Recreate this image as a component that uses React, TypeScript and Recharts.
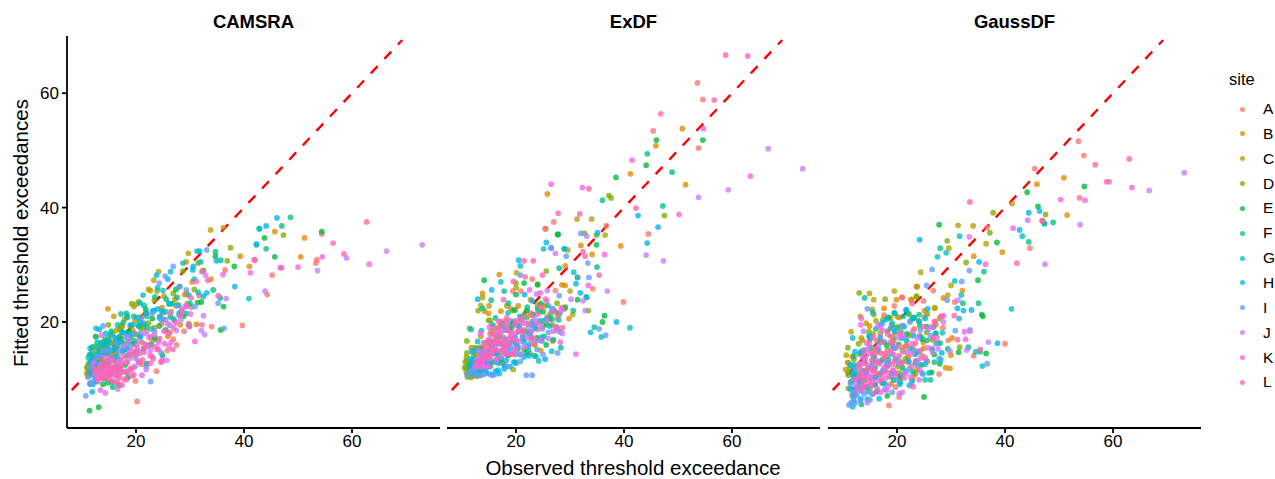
import { ScatterChart, Scatter, XAxis, YAxis, ReferenceLine } from 'recharts'

type Pt = [number, number]

const sites = ['A', 'B', 'C', 'D', 'E', 'F', 'G', 'H', 'I', 'J', 'K', 'L']
const siteColors = ['#F8766D', '#DE8C00', '#B79F00', '#7CAE00', '#00BA38', '#00C08B', '#00BFC4', '#00B4F0', '#619CFF', '#C77CFF', '#F564E3', '#FF64B0']
const xTicks = [20, 40, 60]
const yTicks = [20, 40, 60]

// CAMSRA
const camsraA: Pt[] = [[54.4,35.4],[53.5,30.9],[53.3,30.3],[45.2,28.2],[44.3,24.8],[39.7,19.4],[36.5,29.1],[34,19.2],[20.2,6.1],[23.8,11.4],[30.2,22.6],[29.9,19.2],[29.4,24.9],[27.5,16],[26.3,18.2],[25,21.6],[24,16.8],[22.8,17.4],[21.5,19.6],[20.7,14.5],[19.6,12.1],[18.9,16.6],[17.3,19],[16.8,10.2],[15.9,13.5],[15,11.8],[14.1,15.6],[13.2,12.7],[12.4,11.1],[27.1,20.2],[31.7,24.6],[25.8,15],[23.2,13.6],[21,12.6],[18.1,13.9],[17.1,12.1],[28.5,22],[19.9,9.7],[14.5,13.1],[16.4,15.4],[12.9,14],[22,18.3],[26.9,17],[18,11.2],[24.8,19.7],[15.4,14.4],[28.9,18.4]]
const camsraB: Pt[] = [[45.7,35.8],[51.2,34.7],[39.3,31.5],[50.5,31.4],[41,29.7],[14.8,22.3],[33.9,27.5],[31.2,19.6],[29.8,19.7],[29,24.8],[27.6,23],[26.5,21.8],[24.8,22.5],[23.4,19],[22,21.5],[21.2,16.4],[19.4,18.5],[18.4,15.5],[17.5,19.4],[16.2,17],[15.6,14.3],[14.4,16],[13,13.4],[12,12.5],[11.2,11.4],[30.4,27],[19.1,14.3],[17,13.4],[25.9,17.5],[12.7,15],[14.9,12.8],[20.3,17.8],[11.6,14.3],[23,16.7],[28.2,19.5],[13.9,12],[21.4,19],[16.5,12.2]]
const camsraC: Pt[] = [[33.8,36.1],[36.2,36.5],[29.7,32],[29.3,30.5],[15.9,21],[12.5,17.5],[24.2,28.8],[23.3,27.3],[22.3,25.7],[22.7,25.5],[20,23.1],[19.6,22.7],[17.9,20.5],[17.2,19.2],[16.4,18.6],[15,17.3],[14.1,16.6],[13.2,15.4],[12.2,14.2],[11.5,13.1],[11,12.2],[10.9,11.1],[11.2,10.5],[27.2,24],[25.2,24.5],[21.1,21],[18.5,17.2],[14.7,14.5],[13.6,13],[12.8,12],[32.4,29],[11.7,11.7],[15.9,16.1],[18.9,19.3],[12.1,11.2],[13.9,14.2],[17,17.5],[19.8,20.2],[16.3,14.5],[12.9,13.5]]
const camsraD: Pt[] = [[47.3,35.2],[37.5,33],[36.9,30.7],[31.5,30.3],[32.5,29],[14.9,19.5],[23.9,25.4],[20.5,23.5],[19.2,23.2],[18.4,21],[17,18.7],[15.3,16.4],[14.5,15.7],[13.6,15.2],[12.7,14.4],[11.9,13.6],[11.2,12.7],[10.9,12],[26.9,25],[25,20.5],[22.3,19.8],[19.8,17.9],[16.2,15],[14,13],[12.4,12.2],[30.8,25.7],[28.7,28.9],[29.5,23.2],[15.7,17.9],[13.3,12.4],[17.8,16.3],[11.5,11],[23.4,23.8],[18.6,18.1],[12.3,15.7],[20.9,18.9]]
const camsraE: Pt[] = [[43.8,34.7],[54.4,35.8],[45.7,31.4],[38.2,29.7],[34.7,31.5],[36.2,22.7],[35.7,18.6],[28.8,21],[31.4,23.4],[32.1,23.5],[27.4,25.7],[26.7,23.2],[28.1,26.2],[25.5,18.6],[24.3,19.3],[23,20.6],[21.8,22.2],[20.8,17.4],[20,14.6],[18.7,18.4],[17.5,15],[16.4,11.4],[15.2,13.2],[15.3,10.9],[14.1,10.1],[14.8,9.4],[16.8,8.9],[13.1,11.4],[12,10.9],[11.5,9.3],[22,12.7],[18.5,10.3],[24.9,14.2],[13.1,5.1],[11.4,4.5],[16.2,16.4],[18,12.5],[19.6,16.2],[21.4,15.3],[14.2,14.7],[15.6,9.5],[13.9,9.1],[26.4,20.9],[23.5,17.2],[20.5,19.3],[12.7,9.6],[17.2,17]]
const camsraF: Pt[] = [[48.6,38.3],[47,36.8],[44.1,32.8],[35.7,30.8],[34.7,32.3],[34.3,25.6],[35.6,24.2],[23.5,24.4],[25.6,24],[26.2,23.2],[27.6,24.3],[29.3,21.5],[30,23.2],[21.5,22.9],[20.7,20.2],[19.6,21],[18.2,21.5],[16.9,17.4],[15.4,18.4],[14.3,17],[13.5,16.1],[12.6,17.4],[11.8,15.6],[11.4,14.3],[17.8,15.1],[16,13.3],[13.8,12.3],[12.3,11.5],[22.8,16],[24.4,21],[19.8,16.7],[15.7,8.6],[16.6,15.8],[14.6,16.5],[12.8,16.4],[18.5,17.9],[12.1,13.4],[22,19.1],[27.9,22.9],[15.2,15.1],[17.6,19.9]]
const camsraG: Pt[] = [[42.9,36.3],[40.9,24.1],[42.8,36.3],[31.3,32.4],[28.7,30.3],[32,30.5],[30.5,29.1],[12.6,18.9],[26.4,28.8],[24,26],[25,25.5],[23.4,22],[22,21],[21.3,24.7],[20.8,23.3],[19.5,19.5],[18.4,20.8],[16.6,19.5],[15.3,17.8],[14.4,18],[13.5,16.4],[12.9,15.6],[11.5,15.4],[11.8,14.8],[11.2,13.8],[27,20.5],[29.8,24.7],[28,21.6],[30.8,27.5],[33.1,25.1],[31.5,25.2],[17.2,21.4],[18.4,14.2],[16,13.7],[13.5,11.5],[12.2,10.8],[25.5,21.8],[14.9,15.8],[12.4,12.9],[13.2,14.2],[17.7,18.2],[19.1,17.4],[15.6,15],[24,22.3],[20.6,19.4],[22.9,18.8],[16.7,16.4]]
const camsraH: Pt[] = [[44.1,36.8],[46.1,38.2],[42.3,33.5],[42.3,33.6],[38.3,26.2],[34.9,30.7],[31.8,32.4],[13.2,18.7],[23.8,28.2],[25.9,27.5],[30.6,29.7],[26.1,23.2],[24.8,21.9],[23.1,22],[21.9,21.6],[20.3,20.8],[19,19.5],[17.4,18.2],[16.1,17.2],[15,16.8],[14,15.9],[13.1,14.7],[12.3,13.9],[11.6,13],[11.4,11.7],[11.9,7.8],[12,9.1],[12.4,10],[28,21.2],[32.5,24.5],[20.8,17.5],[18.2,15.3],[16.5,14],[14.4,12.4],[13,12.9],[14.6,14.5],[12.2,12.3],[15.5,13.7],[17.3,16.4],[11.7,10.8],[21.4,19.8],[18.9,17.8],[24.4,20.7],[16,15.4]]
const camsraI: Pt[] = [[33.1,32.6],[36.3,18.9],[35.2,23.3],[10.7,7.1],[22.7,9.6],[13.9,19.3],[25.4,28],[24.3,26.8],[26.9,29.7],[28,26.2],[29.3,25.6],[30.9,22.7],[26.3,19.4],[24.7,20.4],[23,21.5],[20.9,20.5],[19.6,18],[18,17.4],[16.3,16.3],[15.1,15],[13.7,13.9],[12.7,14],[12,12.6],[11.4,12],[11.1,10.4],[11.9,9.5],[12.6,9.9],[14.5,10.8],[16.4,12],[18.3,11.4],[20,13.6],[21.9,12.2],[24.6,14.7],[17.5,15.4],[22.3,16],[27.4,22.8],[29.7,19.5],[14.2,15],[15.3,13.8],[13.4,12.5],[16.9,14.8],[12.2,11],[19,15.6],[20.9,18.1],[11.5,9.1],[12.8,11.3],[23.4,18.4],[25.5,20.4],[18.6,16.4],[14.8,13.2]]
const camsraJ: Pt[] = [[73,33.5],[66.4,32.4],[59,31.2],[47,29.5],[53.6,29],[43.9,25.4],[32.9,28.2],[32.5,21.1],[32.1,18.5],[32.7,17.8],[36.7,24.1],[16.6,8.3],[25.7,13.3],[26.1,15.8],[24.9,13.4],[22.7,15.1],[21.9,11.7],[20.4,14.9],[19,13.7],[17.3,13.2],[15.8,12.2],[14.2,11.5],[13,10.6],[28.3,20.4],[29.1,22.7],[27.5,18.5],[23.4,17.8],[21.6,18],[18.5,17.3],[16.9,10.5],[30.1,21.4],[20.7,16.7],[17.8,15.8],[24.2,16.4],[19.9,12.3],[26.3,21.4]]
const camsraK: Pt[] = [[54.5,31.4],[50,29.6],[63.2,30.1],[41.2,28.6],[36.1,28.3],[42,30.8],[32.2,28.8],[30.9,16.6],[13.4,8.1],[14.3,7.6],[13.6,17.7],[31.2,27.1],[29.3,22.8],[28.5,22.2],[27.4,19.9],[26.5,16.5],[25.2,18.4],[24.1,15.3],[23,13.9],[22.7,12.8],[21.5,14.7],[20.6,13],[20.2,16],[19.1,11.7],[18.4,12.9],[17.6,14.1],[16.7,11.5],[16,10.7],[15.4,13.2],[14.7,12.1],[14.1,11],[13.5,12.6],[13,11.5],[12.4,10.8],[12.2,13],[18.2,9.9],[21.1,10.7],[16.6,12.8],[15.1,10.1],[14.2,13.8],[13.1,9.7],[14.9,11.3],[15.7,11.6],[17.2,12.6],[18.9,14.8],[20,14.2],[22.4,17.3],[24.8,13.1],[19.6,10.8],[16.2,9.5],[13.7,10.4],[23.5,15.7],[21.7,16.1],[25.9,19.7]]
const camsraL: Pt[] = [[62.7,37.5],[56.5,33.8],[58.5,31.9],[41.9,30.9],[46.7,29.5],[33.3,27.3],[35.2,24.6],[32.2,19.5],[29.9,19.3],[30.2,24.2],[28.2,21.2],[27,19],[26,18],[24.4,17.1],[23.9,15.2],[22.6,14.2],[21.5,15.4],[20.5,13.1],[19.7,14.8],[19,11.9],[18.2,13],[17.6,11.3],[17,12.2],[16.4,10.6],[15.8,13.4],[15.2,12.1],[15,11],[14.6,12.5],[14,11.7],[13.7,10.4],[13.3,12],[12.8,11.2],[12.3,11.8],[16,11.7],[16.9,10.9],[17.8,10],[19.3,10.6],[14.4,10.1],[15.6,9.7],[24.6,13],[26.8,15.2],[14.8,10.6],[15.4,11.4],[16.2,12.4],[17.2,11.6],[18.5,11.2],[13.6,11],[14.2,12.8],[15,13.6],[12.9,10.2],[16.6,9.4],[17.4,9],[18.7,14.2],[21.2,13.4],[22.2,15.8],[20.2,15.4],[25.3,16.2]]

// ExDF
const exdfA: Pt[] = [[53.6,61.8],[54.6,58.9],[45.4,53.4],[53.8,50.4],[27,37.5],[25.4,36.3],[36.7,36.8],[44.5,35.4],[25.5,36.3],[23,27.5],[19.4,25.4],[20.9,25.4],[27.3,25.5],[34.2,25.8],[39.9,23.5],[31.4,27.8],[19,22.4],[22.7,21.6],[25.8,21],[28.4,22.5],[20.6,18.5],[24,18.7],[17.4,19.8],[16.3,17.1],[15,15.3],[13.7,14],[19.6,14.5],[21.9,15.5],[14.1,12.4],[12.2,11.6],[18,15.2],[17.1,13.2],[23.4,16.2],[25,19.4],[15.3,12.7],[19.9,17]]
const exdfB: Pt[] = [[50.8,53.8],[45.9,50.8],[41.2,45.9],[51.4,44],[25.8,42.4],[32,33.4],[39.4,33.3],[34.1,31.8],[29.1,29.8],[28.5,26.5],[29.1,26.4],[16.9,28.3],[13.8,25],[14.9,21.5],[29.8,20.6],[22.7,23.9],[24,22.5],[27.5,21.7],[19.4,19.9],[20.4,22.8],[17.2,21.9],[14.2,21.9],[23.5,16],[18.7,16.3],[15.8,17.8],[13.4,15.6],[12.2,14.1],[11.1,12.6],[16.8,14.2],[26.7,19.5],[14,12.7],[13,11.2],[15.4,13.2],[12.4,12.2],[18,20.2],[21.4,18.6],[22.6,14.5],[25.2,22.8],[17.7,12.6],[11.7,11.1],[24.6,15]]
const exdfC: Pt[] = [[31.3,38],[34,38],[36.5,35.2],[29.6,32.6],[20.1,28.6],[20,26],[13.8,24.3],[13.5,22.9],[15,22.8],[15.2,20.3],[30,25.4],[18.3,22.8],[21.6,21.5],[24,23],[30.5,21.3],[15.9,19.3],[18.1,18.7],[16.8,17.2],[13.5,17.5],[11.7,15.5],[10.9,13.1],[10.7,12.1],[11.1,11],[11.8,10.6],[12.7,10.5],[13.6,10.7],[14.1,12.3],[19.5,11.7],[19.8,13],[26.8,16.7],[11.9,11.7],[12.9,13.3],[15.1,15.2],[17.4,15],[11.4,12.9],[14.2,16.3],[19,20.2],[23,19.6],[16.2,13.1],[12.3,15.5]]
const exdfD: Pt[] = [[37.2,42.1],[37.6,41.7],[47.5,38.6],[32.7,35.5],[34.9,35.2],[25.6,28.9],[24,26.6],[20,26.8],[13,22],[14.9,20.3],[11.4,18.9],[10.9,16.7],[10.9,14.6],[10.6,13],[10.5,12],[10.8,11.2],[11,10.4],[11.7,10.3],[12.4,10.7],[13,12.6],[16,16.6],[18,16],[19.4,22],[22,20.8],[24.4,20.1],[29,22.3],[33.4,22],[17,19.2],[15.4,18.4],[21.5,15.2],[11.8,12.7],[12.6,14.4],[11.2,11.8],[13.8,14.2],[14.9,16.3],[10.8,13.8],[16.6,13.5],[20.6,19.3],[22.9,17.1],[26.4,21.4],[18.7,14.2],[27.6,23.3],[19.3,17.2]]
const exdfE: Pt[] = [[46,51.8],[54.6,51.8],[44.1,47.4],[38.5,45.3],[27.8,35.3],[27.7,35.3],[34.9,33.5],[14.1,27.3],[21.5,26.8],[24,26.5],[20,24.8],[31.4,23.9],[36.4,21.1],[36,20],[29.1,22.6],[28,21.4],[26.2,20.6],[25.7,19.5],[22,22],[19.8,22.1],[23.2,21.3],[18.8,18.6],[21.3,17.5],[17.4,19.7],[20.3,15.3],[15.9,14.5],[14.4,13.8],[12.9,13],[11.8,11.9],[22.7,18.2],[25,21.8],[16.7,16.4],[13.8,15.4],[15.2,12.2],[18.4,14.2],[24.6,23.2],[27,22.1],[19.5,19.8],[23.9,17.2],[17.3,13.4],[21.9,14.6],[25.6,16]]
const exdfF: Pt[] = [[44.3,49.4],[48.9,46.2],[36,41.3],[47.2,40.3],[28,29.4],[35,29.6],[17.8,25.4],[15.4,23.8],[18.6,23.3],[13.8,22.4],[33,24.4],[26.9,16.9],[28.3,15.5],[34.5,19.1],[26.7,20.5],[24.3,21.8],[22.1,22.6],[20.7,21],[23.5,19.4],[25.2,17.5],[19.2,19],[17,17.5],[15.5,15.5],[14,14.7],[12.4,12.8],[11.4,12.2],[13.5,11.5],[23.4,14.1],[30.6,22],[16.2,20.7],[12.8,15.4],[14.7,13],[18,17],[16.8,12.8],[21.9,18.3],[24.9,20.2],[20,16.2],[25.9,22.9],[22.4,16.1],[27.9,20.4]]
const exdfG: Pt[] = [[25.1,32.8],[29,32.8],[28.9,32.8],[30.7,28.7],[31.4,27.8],[33.1,24.3],[17.2,27],[20.8,29.8],[27.6,19],[26.6,14.9],[24.2,13.2],[23.7,14],[41.1,19],[35.8,17.4],[28.1,18.3],[24.7,17.3],[23,20.1],[21,20.3],[18.5,21.6],[17.6,19.2],[19.8,17.4],[15.5,19.6],[13.6,18.5],[11.7,18.7],[12.9,16.6],[12.2,14.9],[11.5,13.5],[14.2,13.4],[16.5,14.6],[20,12.8],[13.1,12],[17.9,12.4],[12,12],[13.4,14.8],[15.3,16.5],[15.9,13],[11.4,11.3],[19,15.4],[21.5,16.5],[24,22.2],[26.3,19.3],[22.3,15.2],[18.8,19.4],[14.4,11.5],[16.7,11.6],[20.7,14.3]]
const exdfH: Pt[] = [[42.6,38.6],[46.3,36.6],[44.3,33.8],[25.6,33.9],[35.1,35.6],[20.5,30.8],[31.1,26.7],[15.5,25.6],[12.9,24],[31.9,25.1],[21.6,24.8],[38.6,20],[33.8,18.2],[23,23.7],[26.7,22.4],[24.8,16.7],[22.5,18],[20.4,19.3],[18.3,15.9],[16.2,14.6],[14.9,15],[13.5,14],[12,13.5],[11.4,12.5],[12,11],[12.8,11.1],[14.4,11.1],[15.2,10.9],[16.2,11.4],[17.8,11.8],[18.9,12.2],[19.6,13],[17.2,13.6],[22.4,14.1],[25.4,13.5],[21.5,13.9],[12.6,12.2],[13.6,11.8],[14.9,12.8],[16.9,11],[18.2,13.3],[11.8,14.8],[13.2,10.9],[20.2,15.8],[21.3,17],[23.5,18.9],[25.6,20.5],[19.3,16.7],[16.6,16.2],[14.1,12.8]]
const exdfI: Pt[] = [[32,35.5],[29.3,31.5],[26.5,33],[26.5,32.9],[33.3,30.3],[33.5,27.8],[20.8,28.2],[28,24.6],[35.4,18.8],[36.6,17.7],[21.9,10.7],[23,10.7],[27.7,14.6],[25,14.3],[23.9,15.2],[24,16.8],[26,18.2],[22.3,19.2],[24.3,20.2],[19.8,20.2],[18,18.6],[16.7,17.7],[20.4,15.6],[22.3,15.7],[15.2,14],[13.6,13],[12.4,12],[11.5,11.3],[12.3,10.8],[13.2,10.6],[15.6,10.7],[16,10.8],[14.5,12],[17.6,14.7],[19,16.2],[21.2,17.5],[11,10.7],[12,11.6],[13,12.9],[14.2,10.9],[16.4,13],[18.2,12.2],[19.9,14.3],[20.8,13.1],[17.2,16.2],[15.4,15.5],[23.1,19.4],[24.9,18.8],[22.6,17.6],[19.4,17.4],[26.6,21.8],[21.4,20.9],[18.6,14.9],[14.9,13.4]]
const exdfJ: Pt[] = [[66.7,50.3],[73.1,46.8],[59.3,43.1],[53.8,41.8],[33.1,35],[27.3,32],[44.1,31.7],[47.3,30.7],[36.9,25.4],[32.4,23.7],[32.8,22],[28.6,18],[25.8,25.5],[23.8,24.9],[28.3,21.8],[26,17.1],[25.7,23.7],[21.9,19.8],[20.5,18.4],[18.6,20.2],[16.9,18.1],[21.5,15.7],[19.9,14.9],[18.4,14.6],[15.1,17],[14,16.4],[24.7,19.1],[30.2,24],[17.3,13.9],[13.1,15],[16,16.5],[20.1,16.8],[22.9,16.5],[19.2,18],[17.9,16.7],[21,14.4],[23.5,20.5],[14.9,14.1]]
const exdfK: Pt[] = [[54.7,53.8],[41.5,48.3],[63.4,45.5],[26.5,44.1],[32.3,43.5],[50.2,38.8],[36.4,31.8],[33.4,26.4],[31.1,14.4],[27.5,18.6],[26.9,22.1],[22.5,25.6],[24.5,25.1],[28.6,22.3],[25.8,20.3],[26.9,18.4],[24.6,16.8],[22.8,18.4],[21.2,19.8],[20,18.1],[18.8,17],[17.8,19.6],[17.1,16.4],[16.4,18.4],[15.6,15.4],[14.8,16.8],[14.2,15],[13.4,14.2],[13,13.5],[12.6,12.7],[12.9,12.3],[13.5,12.1],[14.4,12.3],[15,12.2],[16.3,13.5],[18.2,14.4],[19.8,15.4],[13.4,18],[28.2,16.5],[15.1,19.1],[14.8,13.6],[13.8,13.2],[14.4,13.8],[15.4,14.3],[16.2,15.6],[17.3,15],[18.2,15.7],[19,14.4],[20.6,16.6],[12.4,12.2],[13.2,12.7],[13.8,12.5],[14.3,14.2],[22.1,17.2],[20.9,18.6],[23.9,19.7],[18.5,18.6],[16.8,20.1]]
const exdfL: Pt[] = [[58.8,66.7],[62.9,66.5],[56.7,58.8],[46.8,56.4],[33.5,43.3],[42.2,39.9],[27.8,39],[31.8,38.9],[32.4,32.3],[32.8,31.5],[21.5,30.7],[23.2,30.7],[19.5,27.1],[21.7,27.9],[24.9,28.2],[35.4,28.2],[17.7,23.9],[28.6,19],[27.4,19.2],[25.5,24],[27.7,21],[24.6,22.6],[22.8,21.2],[20.9,20.6],[19.8,19.5],[19,18.2],[18.2,19.2],[17.7,17.3],[17.2,18.2],[16.7,16.5],[16.2,17.6],[15.7,16.4],[15.2,17.9],[15,15.3],[14.6,14.2],[14.2,15.7],[13.7,13.8],[16.4,15],[17.6,15.6],[18.6,16.1],[19.5,14.4],[17.1,20.1],[18.3,20.7],[14.9,13.7],[13.3,13.2],[23.2,17.2],[16,18.8],[16.9,19],[17.4,16.3],[18.9,17.4],[15.9,15.2],[15.3,16.7],[14.5,16.4],[16.6,17.1],[19.6,17],[20.3,18.3],[15.5,14.6],[21.4,18.3],[22.3,19.7],[18,14.6],[20.2,20.1],[24,21.4]]

// GaussDF
const gaussA: Pt[] = [[53.6,51.6],[54.6,49.1],[45.5,46.8],[53.8,41.7],[46.9,37.7],[36.7,36.5],[44.6,32.9],[26.7,25.5],[23.7,26.2],[20.9,24.3],[24.9,23.7],[30.7,23.5],[27,20.1],[21,24.3],[19.5,22.8],[17.6,21.2],[23.6,26.2],[27.8,10.9],[18.5,5.4],[20.4,6.9],[34.2,14.1],[40,16.2],[20.8,19.3],[24.2,17.6],[18.8,16.5],[26.5,15.4],[22,13],[15.7,13.4],[14.3,11.2],[17.2,9.4],[25.1,20.9],[29.5,16.8],[13.1,8.2],[19.3,11.4],[23.2,10.6],[16.2,16.8],[17.9,14.4],[21.7,16],[28.5,19],[15.2,10.3],[24.6,14.1],[12.3,7.5],[19.7,8.6]]
const gaussB: Pt[] = [[50.9,45.2],[45.9,44.1],[41.3,40.7],[51.5,38.7],[39.5,32.2],[34.2,31.5],[32.1,25.5],[28.6,24.2],[22.6,23.9],[25.1,22],[19.9,23.9],[17.6,22.4],[22.7,23.9],[29,12],[29.8,11.9],[30,14.2],[30.2,17.2],[19.4,16.8],[22.1,13.9],[24.9,15.4],[27.2,19.5],[16.9,18],[14.9,19.3],[13.6,16.8],[11.7,14],[10.9,12.9],[15.4,12.3],[17.7,11.5],[20.5,10.2],[23.2,18.8],[18.2,14],[21.3,15.6],[14,13.1],[19,19.5],[25.6,13.1],[23.7,11.7],[27.5,16.4],[16,9.1],[20.1,20.9],[13,10.1],[18.9,9.2]]
const gaussC: Pt[] = [[31.3,36.9],[34.1,36.8],[36.5,33.7],[29.6,32.9],[24.4,28.7],[23.7,26.2],[30,26.4],[29.4,24.7],[27,22.4],[27,22.5],[19.5,25.4],[14.9,25],[15.7,23.9],[15.4,22.2],[11.5,18.3],[10.6,14.2],[10.9,12.9],[10.5,11.7],[11,10.7],[13.2,21],[16.1,20.2],[13.4,17.2],[19.6,18.1],[22.5,20.3],[18.3,15.1],[21,13],[15.4,14.8],[12.4,12.3],[14.1,10.2],[24.9,16.4],[12,8.3],[17,16.5],[14.3,19.8],[16.5,13],[13,14.4],[20.4,20.8],[18.8,20.7],[22.9,15.4],[15.6,17.9],[11.9,10.6],[20.4,11.1]]
const gaussD: Pt[] = [[47.5,38.8],[37.8,39.1],[37.2,35.6],[29.3,34.2],[32.8,30.4],[13,25.1],[17.8,24],[23.6,24.4],[23.6,24.5],[25.6,21.4],[31.6,15.6],[10.9,15.5],[11,8.4],[11.3,12.1],[10.9,11.2],[12,13.5],[15.7,21.3],[17.4,20.4],[24,20.2],[19.3,17.3],[16.5,14.9],[14.3,11.6],[18.1,12.7],[13.4,9.1],[21,15],[23.4,11],[25.5,18.2],[11.4,9.5],[14.8,18.3],[12.6,11],[20.1,12.2],[16,10.4],[22.4,17.7],[12.9,16.2],[18.2,18.4],[21.6,13.6],[26.6,16.9],[15,8.4],[11.7,7.1],[27.9,20.6]]
const gaussE: Pt[] = [[54.7,43.7],[44.1,42.7],[46.1,40.2],[27.8,37],[38.5,33.9],[35,27.3],[35.9,21],[35.7,21.3],[23.2,20.8],[25.5,19.2],[25,6.9],[18.2,7.1],[31.4,14.7],[36.5,14.5],[26.9,14.3],[27.2,18],[20,19.1],[19.5,21.6],[22.2,21.4],[18.1,15.9],[20.3,16.1],[23.4,14.4],[15.8,14],[13.9,15.1],[16.7,10.8],[14.3,8.6],[12.4,10.4],[21,12],[24.5,12.5],[26.4,11.2],[17.4,13.5],[19.4,9.9],[15,17],[13.1,12.7],[22.8,9.8],[16.3,7.9],[18.4,20.8],[21.8,17.9],[24.7,17],[27.9,12.7],[20.6,10.5],[15.9,12]]
const gaussF: Pt[] = [[47.3,37.2],[48.9,37.4],[44.4,34],[36.1,28.8],[32.2,23.3],[35.1,23.3],[28,32.9],[24.1,21.3],[35.4,14.8],[33.2,15.6],[14,24.2],[12,14],[13.4,5.6],[26.2,9.9],[23,20.7],[21.3,19.2],[16.9,17.1],[18.9,18.9],[25.6,16.8],[28,16.3],[19.7,13.5],[23.4,12.8],[15.5,12.9],[13.5,11.5],[11.7,11.2],[17.4,9.3],[20.6,9.5],[12.2,8.2],[26.9,13],[18.3,12.3],[15.1,15.5],[21.8,16.8],[14,9.8],[16.1,18.8],[24.2,19.4],[29.4,15.3],[19.2,15.9],[22.8,11.4],[17,11.1]]
const gaussG: Pt[] = [[47.3,37.2],[43.2,35],[31.6,35],[27.5,31.4],[29.1,32.1],[30.7,27.2],[31.9,24.7],[41.2,22.3],[32.3,22],[31.5,20.6],[25.2,20.6],[21.7,22.1],[28.4,18.1],[35.8,12.3],[34.6,14.8],[25.2,9.9],[25.9,11.1],[11.8,17.2],[11.8,5.2],[15.5,21.7],[21.2,21],[19.1,19.8],[24.4,17.4],[22.4,15.3],[17.7,16.5],[14.8,17.5],[13.3,14.8],[12,12.5],[16,10.4],[20.3,12.7],[26.5,15.1],[28.1,13.4],[22.3,8.9],[18.4,13.4],[13.2,9.9],[16.5,15.2],[12,7.4],[23.5,13.2],[19.4,15.4],[20.7,18.4],[27.1,18],[14.6,7.8],[18.9,10.4],[24.8,10.9],[11.6,9.6]]
const gaussH: Pt[] = [[44.4,39.1],[46.4,39.4],[42.7,36.1],[35.2,30.5],[24.2,34.4],[25.7,22.3],[31.2,22.4],[33.8,22.1],[24.1,20.1],[38.6,16.3],[12.2,14.8],[21.7,22.1],[19.6,21.5],[22.9,20.6],[18.1,20.5],[26.7,19.1],[20.8,17.2],[15,17.5],[13.4,14.5],[11.4,12.5],[12.2,11.5],[12.9,10.6],[13.8,8.6],[11.4,8.3],[12.1,7.2],[13.3,6.5],[15.4,7.4],[16.7,6.6],[17.8,9.2],[14.8,12],[23.9,14.8],[21.6,11.4],[25.2,12.6],[28.3,14.6],[11.8,10.8],[13,9.6],[14.5,6.5],[15.9,9],[17,13.1],[19,14.4],[12.6,8.6],[19.6,18.4],[22.2,13.1],[17.3,19.8],[23.1,17.6],[14.2,11.1],[18.9,11.1],[20.5,9.1],[12,6.1]]
const gaussI: Pt[] = [[33.4,29],[26.5,29.2],[25.5,26.4],[29.3,23.8],[32,27.1],[30.8,18.5],[33.5,18.6],[36.7,12.7],[27.8,13.6],[14.5,22.3],[22.4,20],[18.8,18.9],[24.3,18.6],[21.1,19.4],[16.9,17.4],[19.7,15.4],[23.2,15],[25.4,13.3],[22.3,11.9],[19.8,9.8],[15.6,13.9],[13.5,11.2],[12,10],[11.4,9.2],[11.7,7.6],[12.6,7.1],[13.9,7.4],[11.1,5.5],[12.2,5.8],[11.5,5.9],[14.7,8.8],[16.1,7.7],[17.4,11.6],[21,10.8],[24.6,11.1],[12.9,8.9],[11.9,6.6],[13.3,7.9],[15,6.4],[15.9,10.2],[18.5,12.9],[23.8,12.5],[21.6,17.1],[12.3,11.8],[16.6,16],[26.2,17.6],[20.2,13.4],[17.7,8.2],[19.1,7.7],[22.7,9.3],[14.1,13.4],[27.2,16.2],[16.8,19.6],[13.2,6.2],[15.3,11.8]]
const gaussJ: Pt[] = [[73.2,46.1],[59.3,44.5],[66.7,43],[44.2,37.8],[53.9,37],[47.4,30.1],[31.3,23.8],[36.9,16.5],[33.5,18.4],[32.9,15.1],[28.6,20],[20.4,7.5],[21,7.7],[14.5,5.9],[13.8,18.4],[25.8,18.7],[23.8,17.2],[21.3,14.8],[17.3,18.5],[18.8,14.9],[15.8,12.6],[17.6,12],[22.5,10.4],[26.6,14.7],[14.6,15.3],[13,12.7],[19.6,10.7],[12.3,9.1],[29.8,14.9],[16.5,19.4],[20.3,17.3],[24.3,13.6],[15.1,10.9],[18.4,8.8],[22.8,14.4],[27.6,15.3],[13.8,8.1]]
const gaussK: Pt[] = [[63.5,43.5],[54.8,41.3],[50.3,41.4],[41.5,36.4],[33.4,34.9],[36.4,30.1],[28.6,21.1],[28.3,21],[32.5,18.3],[32.7,17],[26.5,19.2],[24.1,9.9],[13.4,20.6],[13.3,19.5],[22.9,18.4],[21,17.7],[18.8,17.5],[17,19],[15.6,17.3],[14.4,16.3],[14.9,14.5],[13.7,13.8],[16.4,13.2],[17.7,14.5],[19.4,14.3],[20.5,12.6],[22,14.6],[23.7,13.2],[18.6,10.5],[16.7,9.8],[15,10.2],[13.6,11],[14,8.9],[15.6,7.5],[18.1,8.1],[25.7,15.5],[24.2,11.6],[27.4,17.3],[14.6,12.4],[15.8,11.4],[17.2,10.9],[18,12.4],[19.2,11.6],[20.3,15.7],[14.3,10.5],[16.1,15.4],[12.8,10.3],[13.2,12.5],[21.6,11],[22.8,16.2],[15.5,9.5],[19.1,16.3],[13.9,14.9],[17,7.7],[12.5,8.1]]
const gaussL: Pt[] = [[63,48.5],[56.7,47.5],[58.8,44.5],[33.5,41],[46.9,37.7],[42.2,30.3],[35.4,15.2],[31.2,16.9],[30.6,21.1],[28.1,21],[27,20],[22.8,23.2],[24.9,19.2],[23,8.7],[19.2,16.4],[20.5,18],[17.3,16.5],[16,15.3],[14.9,16.2],[14.2,14.1],[13,12],[15.5,11.7],[16.7,12.7],[18,11.3],[19.1,12.6],[20.4,14.1],[21.9,15.8],[17.1,9.9],[15.2,8.9],[13.7,9.7],[21.3,10.2],[23.4,16.3],[25.2,13.8],[22.7,12.3],[26.7,17.2],[12.4,9.9],[14.4,11.6],[15.3,13.3],[16.2,11],[17.6,13.7],[18.8,15],[13.6,8.6],[19.8,11],[14.8,9.7],[16.9,14.6],[18.3,17.9],[24.3,15],[20.9,12.9],[16.4,8.3],[13.3,10.7],[14,12.8],[15.8,14.4],[17.9,10.2],[19.6,13.2]]

const camsraSeries = [camsraA, camsraB, camsraC, camsraD, camsraE, camsraF, camsraG, camsraH, camsraI, camsraJ, camsraK, camsraL]
const exdfSeries = [exdfA, exdfB, exdfC, exdfD, exdfE, exdfF, exdfG, exdfH, exdfI, exdfJ, exdfK, exdfL]
const gaussSeries = [gaussA, gaussB, gaussC, gaussD, gaussE, gaussF, gaussG, gaussH, gaussI, gaussJ, gaussK, gaussL]

const font = '"Liberation Sans", Arial, sans-serif'
const plotW = 373

function Dot(props: any) {
  return <circle cx={props.cx} cy={props.cy} r={2.9} fill={props.fill} fillOpacity={0.78} />
}

function Panel({ title, series, left, showY }: { title: string; series: Pt[][]; left: number; showY: boolean }) {
  const yWidth = showY ? left : 0
  return (
    <div style={{ position: 'absolute', left: showY ? 0 : left, top: 0 }}>
      <div style={{ position: 'absolute', left: yWidth, width: plotW, top: 12, textAlign: 'center', fontWeight: 'bold', fontSize: 18.5, lineHeight: '20px' }}>
        {title}
      </div>
      <ScatterChart width={yWidth + plotW + 2} height={479} margin={{ top: 36, right: 2, bottom: 0, left: 0 }}>
        <XAxis
          type="number"
          dataKey="x"
          domain={[7.22, 76.29]}
          ticks={xTicks}
          height={51}
          allowDataOverflow
          stroke="#000"
          strokeWidth={1.8}
          tickSize={5}
          tickMargin={2}
          tick={{ fill: '#000', fontSize: 17, fontFamily: font }}
        />
        <YAxis
          type="number"
          dataKey="y"
          domain={[1.47, 70]}
          ticks={yTicks}
          width={yWidth}
          hide={!showY}
          allowDataOverflow
          stroke="#000"
          strokeWidth={1.8}
          tickSize={5}
          tickMargin={3}
          tick={{ fill: '#000', fontSize: 17, fontFamily: font }}
        />
        {series.map((pts, i) => (
          <Scatter
            key={sites[i]}
            name={sites[i]}
            data={pts.map(([x, y]) => ({ x, y }))}
            fill={siteColors[i]}
            shape={Dot}
            isAnimationActive={false}
          />
        ))}
        <ReferenceLine
          segment={[{ x: 8.1, y: 8.1 }, { x: 69.3, y: 69.3 }]}
          stroke="#ff0000"
          strokeWidth={2.4}
          strokeDasharray="10 9.8"
        />
      </ScatterChart>
    </div>
  )
}

export default function App() {
  return (
    <div style={{ position: 'absolute', left: 0, top: 0, width: 1275, height: 479, fontFamily: font, color: '#000', background: '#fff', overflow: 'hidden' }}>
      <Panel title="CAMSRA" series={camsraSeries} left={67} showY />
      <Panel title="ExDF" series={exdfSeries} left={447} showY={false} />
      <Panel title="GaussDF" series={gaussSeries} left={828} showY={false} />

      <div style={{ position: 'absolute', left: 333, width: 600, top: 457, textAlign: 'center', fontSize: 20.5, lineHeight: '22px' }}>
        Observed threshold exceedance
      </div>
      <div style={{ position: 'absolute', left: 21, top: 232.5, width: 0, height: 0 }}>
        <div style={{ position: 'absolute', left: -200, width: 400, top: -11, textAlign: 'center', fontSize: 20.5, lineHeight: '22px', transform: 'rotate(-90deg)', whiteSpace: 'nowrap' }}>
          Fitted threshold exceedances
        </div>
      </div>

      <div style={{ position: 'absolute', left: 1229, top: 70, fontSize: 16.5, lineHeight: '18px' }}>site</div>
      {sites.map((s, i) => (
        <div key={s}>
          <div style={{ position: 'absolute', left: 1239.5, top: 106.5 + i * 24.85, width: 5, height: 5, borderRadius: '50%', background: siteColors[i], opacity: 0.78 }} />
          <div style={{ position: 'absolute', left: 1263, top: 100 + i * 24.85, fontSize: 15.5, lineHeight: '18px' }}>{s}</div>
        </div>
      ))}
    </div>
  )
}
